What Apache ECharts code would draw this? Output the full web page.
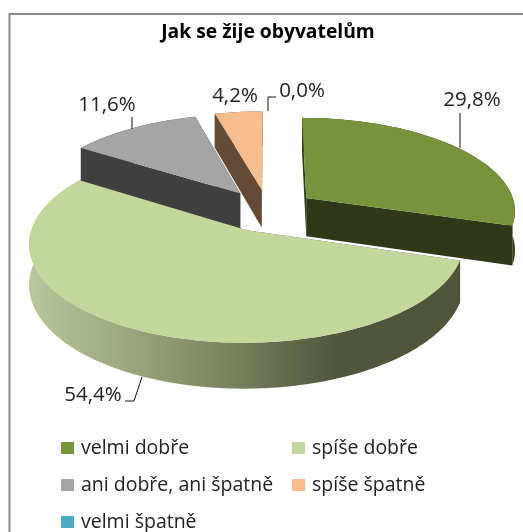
<!DOCTYPE html>
<html><head><meta charset="utf-8">
<style>html,body{margin:0;padding:0;background:#fff}#c{width:523px;height:532px}</style>
<script src="https://cdn.jsdelivr.net/npm/echarts@6/dist/echarts.min.js"></script>
</head><body><div id="c"></div>
<script>
const titleText = 'Jak se žije obyvatelům';
const categories = ['velmi dobře','spíše dobře','ani dobře, ani špatně','spíše špatně','velmi špatně'];
const values = [29.8,54.4,11.6,4.2,0.0];
const topColors = ['#77933c','#c3d69b','#a5a5a5','#f8bd8e','#4bacc6'];
const faceColors = ['#2f3917','#4e5539','#404040','#654b36','#1f5566'];
const rimColors = ['#2f3917',null,'#404040','#654b36','#1f5566'];
const drawOrder = [4,3,2,0,1];

const P = {cx:268, cy:210.4, rx:210, ry:93, p:0.125, h:39, d:0.23};
function project(u,v,down){
  const s = 1/(1-P.p*v);
  return [P.cx+P.rx*u*s, P.cy+P.ry*v*s+(down?P.h*s:0)];
}
const total = values.reduce((a,b)=>a+b,0);
const angles = []; let acc=0;
values.forEach(v=>{const a0=acc/total*2*Math.PI; acc+=v; angles.push([a0,acc/total*2*Math.PI]);});

function makeRender(i){
  return function(){
    const [a0,a1]=angles[i];
    if(a1-a0<1e-6) return {type:'group',children:[]};
    const mid=(a0+a1)/2, ax=P.d*Math.sin(mid), ay=-P.d*Math.cos(mid);
    const n=Math.max(4,Math.ceil((a1-a0)/0.02));
    const arc=[];
    for(let k=0;k<=n;k++){const t=a0+(a1-a0)*k/n; arc.push([ax+Math.sin(t),ay-Math.cos(t)]);}
    const top=[project(ax,ay,false)].concat(arc.map(q=>project(q[0],q[1],false)));
    const rim=arc.map(q=>project(q[0],q[1],false)).concat(arc.slice().reverse().map(q=>project(q[0],q[1],true)));
    const face=q=>[project(ax,ay,false),project(q[0],q[1],false),project(q[0],q[1],true),project(ax,ay,true)];
    const rimFill = rimColors[i] || {type:'linear',x:0,y:0,x2:1,y2:0,colorStops:[
      {offset:0,color:'#b9c69b'},{offset:0.35,color:'#8b966c'},{offset:0.72,color:'#4f563b'},{offset:1,color:'#4e5539'}]};
    return {type:'group',children:[
      {type:'polygon',shape:{points:face(arc[0])},style:{fill:faceColors[i]}},
      {type:'polygon',shape:{points:face(arc[n])},style:{fill:faceColors[i]}},
      {type:'polygon',shape:{points:rim},style:{fill:rimFill}},
      {type:'polygon',shape:{points:top},style:{fill:topColors[i]}}
    ]};
  };
}
const labelFont='20.5px "Open Sans", sans-serif';
const fmt=v=>v.toFixed(1).replace('.',',')+'%';
const labelPos=[[472,100],[93,395],[107,105],[235,96],[302,91]];
const leaders=[
  [[460,113],[460,148]],
  [[142,377],[134,401],[125,401]],
  [[132,117],[132,129]],
  null,
  [[268,111],[268,97],[276,97]]
];
const graphics=[
  {type:'rect',z:0,shape:{x:9.5,y:14,width:600,height:600},style:{fill:'#fff',stroke:'#8c8c8c',lineWidth:2},silent:true},
  {type:'text',z:20,x:268,y:33,style:{text:titleText,font:'bold 19.3px "Open Sans", sans-serif',fill:'#000',align:'center',verticalAlign:'middle'}}
];
values.forEach((v,i)=>{
  graphics.push({type:'text',z:20,x:labelPos[i][0],y:labelPos[i][1],style:{text:fmt(v),font:labelFont,fill:'#222',align:'center',verticalAlign:'middle'}});
  if(leaders[i]) graphics.push({type:'polyline',z:20,shape:{points:leaders[i]},style:{fill:'none',stroke:'#111',lineWidth:1}});
});
const legendBase={orient:'vertical',icon:'rect',itemWidth:13,itemHeight:12,itemGap:17,selectedMode:false,height:130,padding:0,
  textStyle:{fontFamily:'"Open Sans", sans-serif',fontSize:19.5,color:'#222',padding:[0,0,0,2]}};
const chart=echarts.init(document.getElementById('c'),null,{renderer:'canvas'});
chart.setOption({
  animation:false,
  backgroundColor:'#fff',
  graphic:graphics,
  legend:[
    Object.assign({},legendBase,{left:61,top:438,data:[categories[0],categories[2],categories[4]]}),
    Object.assign({},legendBase,{left:292,top:438,data:[categories[1],categories[3]]})
  ],
  series:drawOrder.map(i=>({
    type:'custom',name:categories[i],coordinateSystem:'none',silent:true,z:5,
    itemStyle:{color:topColors[i]},
    renderItem:makeRender(i),
    data:[values[i]]
  }))
});
</script></body></html>
